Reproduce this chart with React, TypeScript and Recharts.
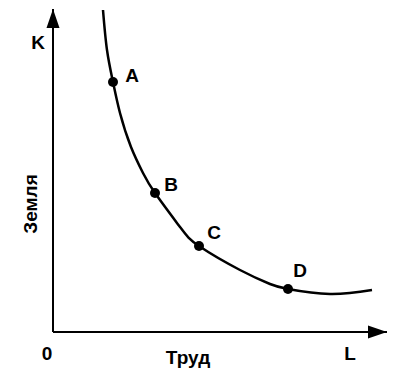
import { ComposedChart, Line, Scatter, XAxis, YAxis, Label, LabelList } from 'recharts';

// isoquant curve (x = labour, y = land)
const curveL = [50, 54, 60, 67, 78, 90, 102, 127, 146, 187, 217, 235, 277, 319];
const curveK = [322, 282, 250, 219, 185, 159, 139, 105, 86, 62, 48, 43, 38, 42];

const pointNames = ['A', 'B', 'C', 'D'];
const pointL = [60, 102, 146, 235];
const pointK = [250, 139, 86, 43];

const xMax = 334;
const yMax = 323;

const curve = curveL.map((l, i) => ({ l, k: curveK[i] }));
const points = pointNames.map((name, i) => ({ l: pointL[i], k: pointK[i], name }));
const arrowUp = [{ l: 0, k: yMax }];
const arrowRight = [{ l: xMax, k: 0 }];

// where each point's letter sits relative to the dot
const labelShift: Record<string, [number, number]> = {
  A: [19, -7],
  B: [16, -9],
  C: [15, -14],
  D: [12, -19],
};

const font = '"Liberation Sans", Arial, sans-serif';

const UpHead = (p: any) => (
  <path d={`M${p.cx},${p.cy} L${p.cx - 6.5},${p.cy + 19} L${p.cx + 6.5},${p.cy + 19} Z`} fill="#000" />
);
const RightHead = (p: any) => (
  <path d={`M${p.cx},${p.cy} L${p.cx - 19},${p.cy - 6.5} L${p.cx - 19},${p.cy + 6.5} Z`} fill="#000" />
);

const Txt = ({ x, y, children, rotate }: any) => (
  <text
    x={x}
    y={y}
    fontFamily={font}
    fontWeight="bold"
    fontSize={19}
    fill="#000"
    textAnchor="middle"
    dominantBaseline="central"
    transform={rotate ? `rotate(-90 ${x} ${y})` : undefined}
  >
    {children}
  </text>
);

export default function App() {
  return (
    <div style={{ position: 'absolute', left: 0, top: 0, background: '#fff' }}>
      <ComposedChart width={400} height={376} margin={{ top: 9, right: 13, left: 52, bottom: 43 }}>
        <XAxis
          type="number"
          dataKey="l"
          domain={[0, xMax]}
          height={1}
          tick={false}
          tickLine={false}
          axisLine={{ stroke: '#000', strokeWidth: 2 }}
        >
          <Label content={({ viewBox }: any) => (
            <g>
              <Txt x={viewBox.x - 6} y={viewBox.y + 21}>0</Txt>
              <Txt x={viewBox.x + 135} y={viewBox.y + 25}>Труд</Txt>
              <Txt x={viewBox.x + 297} y={viewBox.y + 21}>L</Txt>
            </g>
          )} />
        </XAxis>
        <YAxis
          type="number"
          dataKey="k"
          domain={[0, yMax]}
          width={1}
          tick={false}
          tickLine={false}
          axisLine={{ stroke: '#000', strokeWidth: 2 }}
        >
          <Label content={({ viewBox }: any) => (
            <g>
              <Txt x={viewBox.x - 14} y={viewBox.y + 33}>K</Txt>
              <Txt x={viewBox.x - 22} y={viewBox.y + 195} rotate>Земля</Txt>
            </g>
          )} />
        </YAxis>
        <Line
          data={curve}
          dataKey="k"
          type="natural"
          stroke="#000"
          strokeWidth={2.5}
          dot={false}
          isAnimationActive={false}
        />
        <Scatter data={points} fill="#000" isAnimationActive={false} shape={(p: any) => <circle cx={p.cx} cy={p.cy} r={5} fill="#000" />}>
          <LabelList
            dataKey="name"
            content={(p: any) => {
              const [dx, dy] = labelShift[p.value] || [15, -10];
              return <Txt x={p.x + p.width / 2 + dx} y={p.y + p.height / 2 + dy}>{p.value}</Txt>;
            }}
          />
        </Scatter>
        <Scatter data={arrowUp} isAnimationActive={false} shape={UpHead} />
        <Scatter data={arrowRight} isAnimationActive={false} shape={RightHead} />
      </ComposedChart>
    </div>
  );
}
